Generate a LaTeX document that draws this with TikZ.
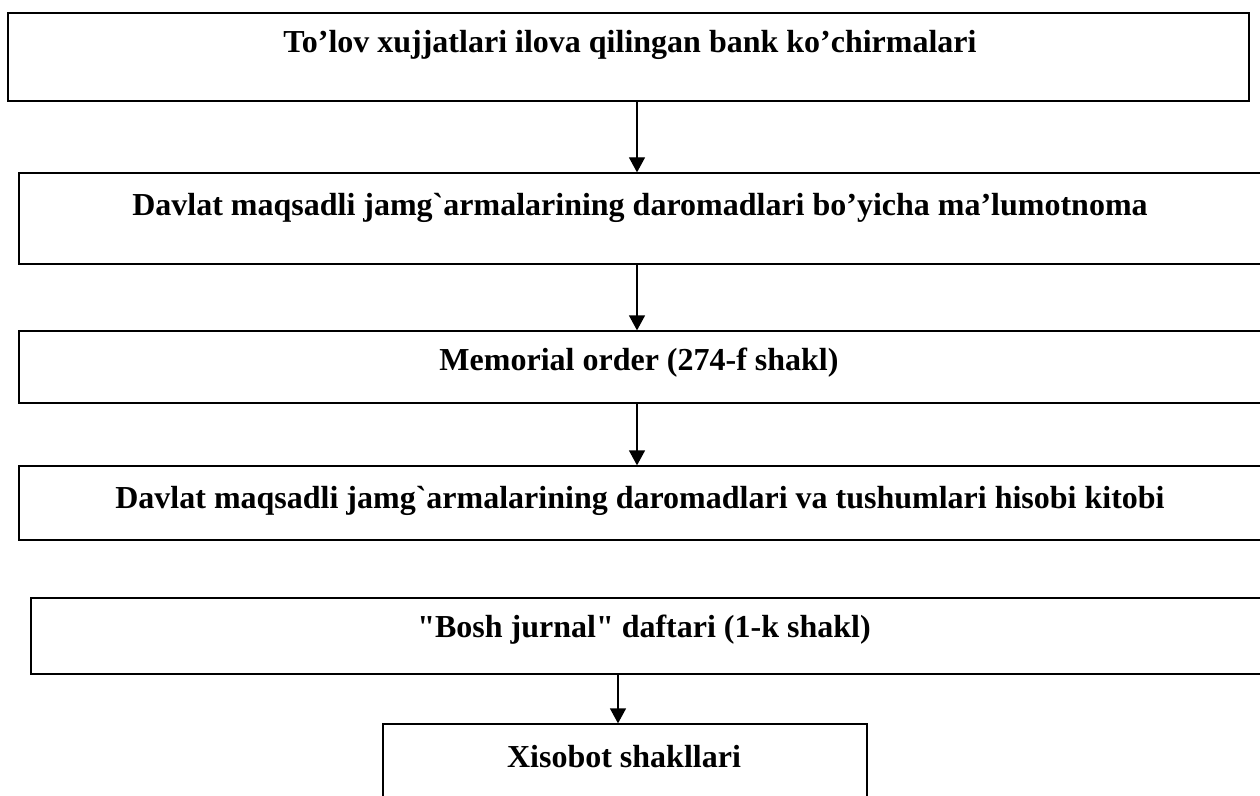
\documentclass[tikz,border=0pt]{standalone}
\usepackage{fontspec}
\setmainfont{Liberation Serif}[Ligatures=TeXOff]
\usetikzlibrary{arrows.meta}
\begin{document}
\begin{tikzpicture}[x=1bp,y=-1bp,
  box/.style={draw=black, line width=1.3bp, rectangle, inner sep=0pt, fill=white},
  lbl/.style={anchor=base, inner sep=0pt, font=\fontsize{32bp}{36bp}\selectfont\bfseries},
  arr/.style={draw=black, line width=1.3bp, -{Triangle[length=15bp,width=16bp]}}]
  \useasboundingbox (0,0) rectangle (1260,796);
  \clip (0,0) rectangle (1260,796);
  \fill[white] (0,0) rectangle (1260,796);

  % boxes of the flow
  \node[box, minimum width=1241bp, minimum height=88bp] (b1) at (628.5,57) {};
  \node[box, minimum width=1261bp, minimum height=91bp] (b2) at (649.5,218.5) {};
  \node[box, minimum width=1261bp, minimum height=72bp] (b3) at (649.5,367) {};
  \node[box, minimum width=1261bp, minimum height=74bp] (b4) at (649.5,503) {};
  \node[box, minimum width=1249bp, minimum height=76bp] (b5) at (655.5,636) {};
  \node[box, minimum width=484bp, minimum height=96bp] (b6) at (625,772) {};

  % captions
  \node[lbl] (t1) at (630,53) {To’lov xujjatlari ilova qilingan bank ko’chirmalari};
  \node[lbl] (t2) at (640,215) {Davlat maqsadli jamg`armalarining daromadlari bo’yicha ma’lumotnoma};
  \node[lbl] (t3) at (639,370) {Memorial order (274-f shakl)};
  \node[lbl] (t4) at (640,508) {Davlat maqsadli jamg`armalarining daromadlari va tushumlari hisobi kitobi};
  \node[lbl] (t5) at (644,637) {"Bosh jurnal" daftari (1-k shakl)};
  \node[lbl] (t6) at (624,767) {Xisobot shakllari};

  % arrow columns
  \coordinate (c1) at (637,0);
  \coordinate (c2) at (618,0);

  \draw[arr] (c1 |- b1.south) -- (c1 |- b2.north);
  \draw[arr] (c1 |- b2.south) -- (c1 |- b3.north);
  \draw[arr] (c1 |- b3.south) -- (c1 |- b4.north);
  \draw[arr] (c2 |- b5.south) -- (c2 |- b6.north);
\end{tikzpicture}
\end{document}
